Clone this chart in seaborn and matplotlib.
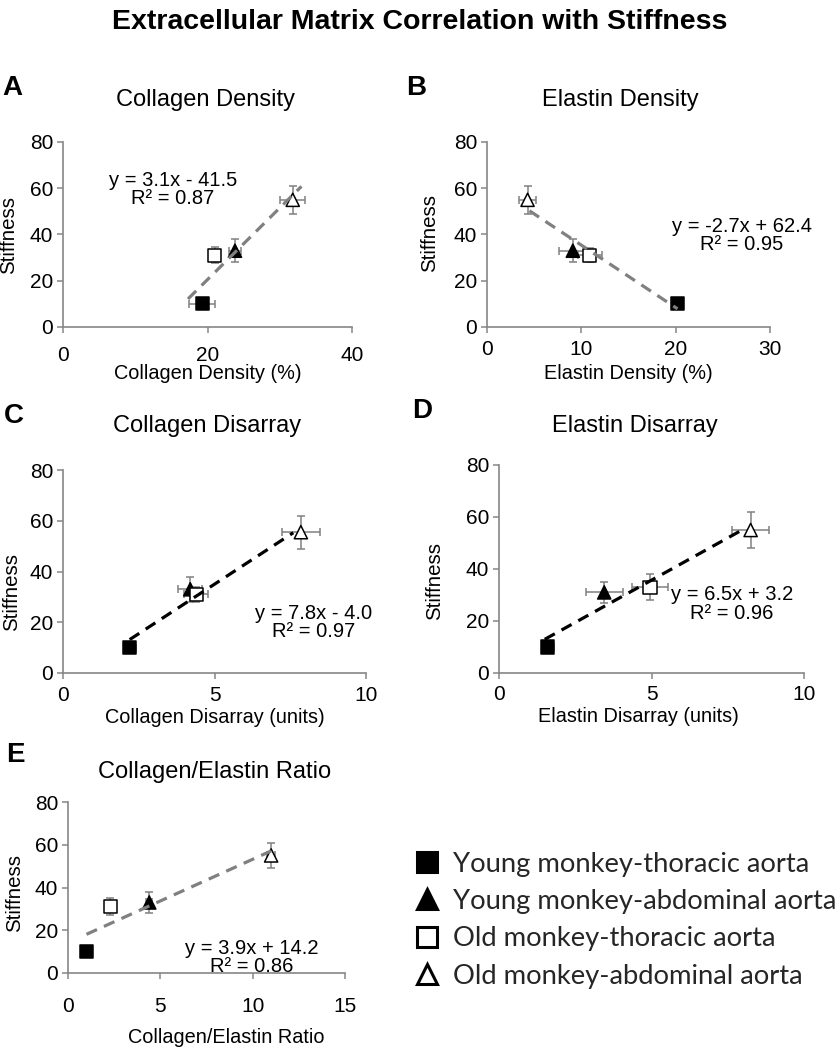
import matplotlib
matplotlib.use("Agg")
import matplotlib.pyplot as plt
from matplotlib.lines import Line2D
import seaborn as sns
import pandas as pd
import numpy as np

sns.set_theme(style="white")
plt.rcParams["font.family"] = ["Liberation Sans", "DejaVu Sans"]

# ---------------- data ----------------
groups = ["Young monkey-thoracic aorta", "Young monkey-abdominal aorta",
          "Old monkey-thoracic aorta", "Old monkey-abdominal aorta"]
fill_colors = ["black", "black", "white", "white"]
marker_shapes = ["s", "^", "s", "^"]

stiffness_A = [10, 33, 31, 55]
stiffness_err_A = [1.5, 5, 3.5, 6]
collagen_density = [19.3, 23.8, 21.0, 31.8]
collagen_density_err = [1.8, 0.8, 0.5, 1.7]

stiffness_B = [10, 33, 31, 55]
stiffness_err_B = [1.5, 5, 3, 6]
elastin_density = [20.2, 9.1, 10.9, 4.3]
elastin_density_err = [0.5, 1.5, 1.3, 0.9]

stiffness_C = [10, 33, 31, 55.5]
stiffness_err_C = [1.5, 5, 3, 6.5]
collagen_disarray = [2.2, 4.2, 4.4, 7.85]
collagen_disarray_err = [0.2, 0.4, 0.4, 0.62]

stiffness_D = [10, 31, 33, 55]
stiffness_err_D = [1.5, 4, 5, 7]
elastin_disarray = [1.6, 3.45, 4.95, 8.25]
elastin_disarray_err = [0.2, 0.6, 0.6, 0.6]

stiffness_E = [10, 33, 31, 55]
stiffness_err_E = [1.5, 5, 4, 6]
ratio = [1.0, 4.4, 2.3, 11.0]
ratio_err = [0.1, 0.15, 0.1, 0.2]

fits = {  # slope, intercept, x range of trend line
    "A": (3.1, -41.5, [17.3, 33.0]),
    "B": (-2.7, 62.4, [4.5, 20.2]),
    "C": (7.8, -4.0, [2.2, 7.6]),
    "D": (6.5, 3.2, [1.5, 8.0]),
    "E": (3.9, 14.2, [1.0, 11.0]),
}
equations = {
    "A": "y = 3.1x - 41.5\nR² = 0.87",
    "B": "y = -2.7x + 62.4\nR² = 0.95",
    "C": "y = 7.8x - 4.0\nR² = 0.97",
    "D": "y = 6.5x + 3.2\nR² = 0.96",
    "E": "y = 3.9x + 14.2\nR² = 0.86",
}

# ---------------- figure ----------------
W, H = 840, 1050
fig = plt.figure(figsize=(W / 100, H / 100), dpi=100)


def rect(x0, x1, ytop, ybot):
    return [x0 / W, 1 - ybot / H, (x1 - x0) / W, (ybot - ytop) / H]


palette = dict(zip(groups, fill_colors))
markers = dict(zip(groups, marker_shapes))

panels = [
    dict(key="A", box=(63, 352, 142, 327), x=collagen_density, xe=collagen_density_err,
         y=stiffness_A, ye=stiffness_err_A, xlim=(0, 40), xticks=[0, 20, 40],
         xlabel="Collagen Density (%)", title="Collagen Density", lc="#808080",
         eq_pos=(15.2, 59.5), xpad=9.5, xlab=(0.5, -0.2), ylab=(-0.155, 0.5),
         title_xy=(205, 100), letter_xy=(2, 95)),
    dict(key="B", box=(487, 770, 142, 327), x=elastin_density, xe=elastin_density_err,
         y=stiffness_B, ye=stiffness_err_B, xlim=(0, 30), xticks=[0, 10, 20, 30],
         xlabel="Elastin Density (%)", title="Elastin Density", lc="#808080",
         eq_pos=(27.0, 39.5), xpad=5.5, xlab=(0.5, -0.2), ylab=(-0.17, 0.51),
         title_xy=(620, 100), letter_xy=(406, 95)),
    dict(key="C", box=(63, 366, 470, 673), x=collagen_disarray, xe=collagen_disarray_err,
         y=stiffness_C, ye=stiffness_err_C, xlim=(0, 10), xticks=[0, 5, 10],
         xlabel="Collagen Disarray (units)", title="Collagen Disarray", lc="black",
         eq_pos=(8.28, 20.0), xpad=5.5, xlab=(0.5, -0.17), ylab=(-0.14, 0.40),
         title_xy=(207, 426), letter_xy=(4, 423)),
    dict(key="D", box=(499, 804, 465, 673), x=elastin_disarray, xe=elastin_disarray_err,
         y=stiffness_D, ye=stiffness_err_D, xlim=(0, 10), xticks=[0, 5, 10],
         xlabel="Elastin Disarray (units)", title="Elastin Disarray", lc="black",
         eq_pos=(7.64, 26.5), xpad=5, xlab=(0.456, -0.165), ylab=(-0.18, 0.44),
         title_xy=(635, 426), letter_xy=(412, 418)),
    dict(key="E", box=(68, 345, 802, 973), x=ratio, xe=ratio_err,
         y=stiffness_E, ye=stiffness_err_E, xlim=(0, 15), xticks=[0, 5, 10, 15],
         xlabel="Collagen/Elastin Ratio", title="Collagen/Elastin Ratio", lc="#808080",
         eq_pos=(9.96, 7.3), xpad=13, xlab=(0.57, -0.32), ylab=(-0.16, 0.47),
         title_xy=(215, 772), letter_xy=(6, 762)),
]

spine_c = "#868686"
for p in panels:
    x0, x1, yt, yb = p["box"]
    ax = fig.add_axes(rect(x0, x1, yt, yb))
    df = pd.DataFrame({"x": p["x"], "y": p["y"], "group": groups})
    ax.errorbar(p["x"], p["y"], xerr=p["xe"], yerr=p["ye"], fmt="none",
                ecolor="#808080", elinewidth=1.1, capsize=3, capthick=1.1, zorder=1)
    sns.scatterplot(data=df, x="x", y="y", hue="group", style="group",
                    palette=palette, markers=markers, s=90, edgecolor="black",
                    linewidth=1.1, legend=False, ax=ax, zorder=2)
    slope, intercept, xr = fits[p["key"]]
    lx = np.array(xr)
    ax.plot(lx, slope * lx + intercept, color=p["lc"], lw=2.3,
            dashes=(3.6, 2.4), zorder=3, solid_capstyle="butt")
    ax.text(p["eq_pos"][0], p["eq_pos"][1], equations[p["key"]], ha="center",
            va="center", fontsize=14.5, linespacing=0.95, color="black")
    ax.set_xlim(*p["xlim"])
    ax.set_ylim(0, 80)
    ax.set_xticks(p["xticks"])
    ax.set_yticks([0, 20, 40, 60, 80])
    for s in ["top", "right"]:
        ax.spines[s].set_visible(False)
    for s in ["left", "bottom"]:
        ax.spines[s].set_color(spine_c)
        ax.spines[s].set_linewidth(1.2)
    ax.tick_params(axis="both", which="both", bottom=True, left=True,
                   direction="out", length=4, width=1.1, color=spine_c,
                   labelsize=15, labelcolor="black")
    ax.tick_params(axis="x", pad=p["xpad"])
    ax.tick_params(axis="y", pad=3)
    ax.set_xlabel(p["xlabel"], fontsize=14.3, color="black")
    ax.set_ylabel("Stiffness", fontsize=14.8, color="black")
    ax.xaxis.set_label_coords(*p["xlab"])
    ax.yaxis.set_label_coords(*p["ylab"])
    ax.grid(False)
    ax.set_facecolor("white")
    fig.text(p["title_xy"][0] / W, 1 - p["title_xy"][1] / H, p["title"],
             ha="center", va="center", fontsize=17, color="black")
    fig.text(p["letter_xy"][0] / W, 1 - p["letter_xy"][1] / H, p["key"],
             ha="left", va="baseline", fontsize=20, fontweight="bold", color="black")

fig.text(420 / W, 1 - 22 / H, "Extracellular Matrix Correlation with Stiffness",
         ha="center", va="center", fontsize=20.5, fontweight="bold", color="black")

handles = [Line2D([], [], marker=m, linestyle="none", markersize=14,
                  markerfacecolor=c, markeredgecolor="black", markeredgewidth=2.2)
           for m, c in zip(marker_shapes, fill_colors)]
fig.legend(handles, groups, loc="upper left", bbox_to_anchor=(400 / W, 1 - 838 / H),
           frameon=False, prop={"family": ["Lato", "DejaVu Sans"], "size": 19.7},
           handlelength=1.0, handletextpad=0.45, labelspacing=0.45, borderpad=0)

fig.savefig("out.png", dpi=100, facecolor="white")
